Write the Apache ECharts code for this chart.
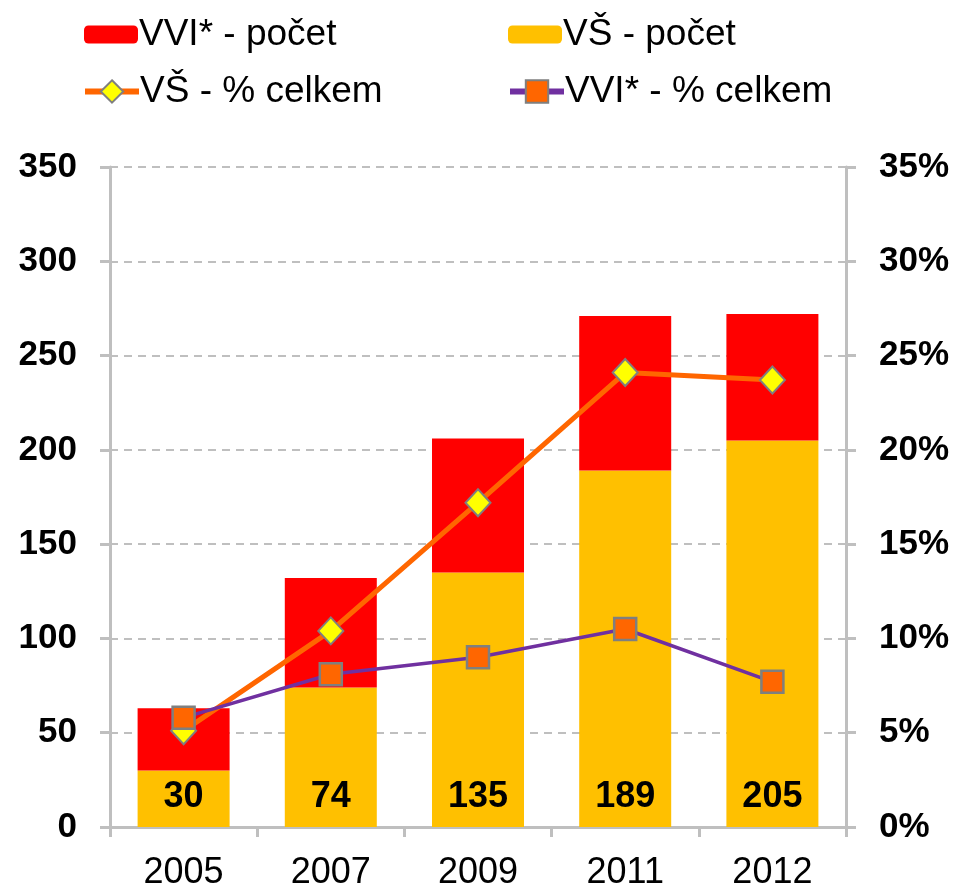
<!DOCTYPE html>
<html>
<head>
<meta charset="utf-8">
<script src="https://cdn.jsdelivr.net/npm/echarts@6/dist/echarts.min.js"></script>
<style>
body { margin: 0; background: #fff; }
#main { width: 956px; height: 891px; }
</style>
</head>
<body>
<div id="main"></div>
<script>
var years = ['2005', '2007', '2009', '2011', '2012'];
var vsCount = [30, 74, 135, 189, 205];
var vviCount = [33, 58, 71, 82, 67];
var vsPct = [5.1, 10.4, 17.2, 24.1, 23.7];
var vviPct = [5.8, 8.1, 9.0, 10.5, 7.7];

var FONT = 'Liberation Sans, Arial, sans-serif';
var GRAY = '#BFBFBF';

var chart = echarts.init(document.getElementById('main'));

function leg(name, left, top, h) {
    return {
        data: [name],
        left: left,
        top: top,
        itemWidth: 54,
        itemHeight: h,
        itemGap: 0,
        padding: 0,
        lineStyle: { width: 6 },
        textStyle: { fontFamily: FONT, fontSize: 37, color: '#000', padding: [0, 0, 0, -4] }
    };
}

var option = {
    animation: false,
    legend: [
        leg('VVI* - počet', 84, 16, 18),
        leg('VŠ - počet', 508, 16, 18),
        leg('VŠ - % celkem', 82, 73, 28),
        leg('VVI* - % celkem', 507, 73, 28)
    ],
    grid: { left: 110, right: 110, top: 167, bottom: 61 },
    xAxis: {
        type: 'category',
        data: years,
        axisLine: { lineStyle: { color: GRAY, width: 3 } },
        axisTick: { show: true, length: 10, lineStyle: { color: GRAY, width: 3 } },
        axisLabel: { fontFamily: FONT, fontSize: 36, color: '#000', margin: 28 }
    },
    yAxis: [
        {
            type: 'value',
            min: 0, max: 350, interval: 50,
            axisLine: { show: true, lineStyle: { color: GRAY, width: 3 } },
            axisTick: { show: true, length: 10, lineStyle: { color: GRAY, width: 3 } },
            splitLine: { lineStyle: { color: GRAY, width: 2, type: [8, 6] } },
            axisLabel: { fontFamily: FONT, fontSize: 35, fontWeight: 'bold', color: '#000', margin: 33 }
        },
        {
            type: 'value',
            min: 0, max: 35, interval: 5,
            axisLine: { show: true, lineStyle: { color: GRAY, width: 3 } },
            axisTick: { show: true, length: 10, lineStyle: { color: GRAY, width: 3 } },
            splitLine: { show: false },
            axisLabel: { fontFamily: FONT, fontSize: 35, fontWeight: 'bold', color: '#000', margin: 33, formatter: '{value}%' }
        }
    ],
    series: [
        {
            name: 'VŠ - počet',
            type: 'bar',
            stack: 'total',
            barWidth: 92,
            data: vsCount,
            itemStyle: { color: '#FFC000' },
            label: {
                show: true,
                position: 'insideBottom',
                distance: 12,
                fontFamily: FONT,
                fontSize: 36,
                fontWeight: 'bold',
                color: '#000'
            }
        },
        {
            name: 'VVI* - počet',
            type: 'bar',
            stack: 'total',
            data: vviCount,
            itemStyle: { color: '#FF0000' }
        },
        {
            name: 'VŠ - % celkem',
            type: 'line',
            yAxisIndex: 1,
            data: vsPct,
            symbol: 'diamond',
            symbolSize: [25, 27],
            lineStyle: { color: '#FF6600', width: 5 },
            itemStyle: { color: '#FFFF00', borderColor: '#7F7F7F', borderWidth: 2 },
            z: 3
        },
        {
            name: 'VVI* - % celkem',
            type: 'line',
            yAxisIndex: 1,
            data: vviPct,
            symbol: 'rect',
            symbolSize: 22,
            lineStyle: { color: '#7030A0', width: 3.5 },
            itemStyle: { color: '#FF6600', borderColor: '#7F7F7F', borderWidth: 2.5 },
            z: 4
        }
    ]
};

chart.setOption(option);
</script>
</body>
</html>
